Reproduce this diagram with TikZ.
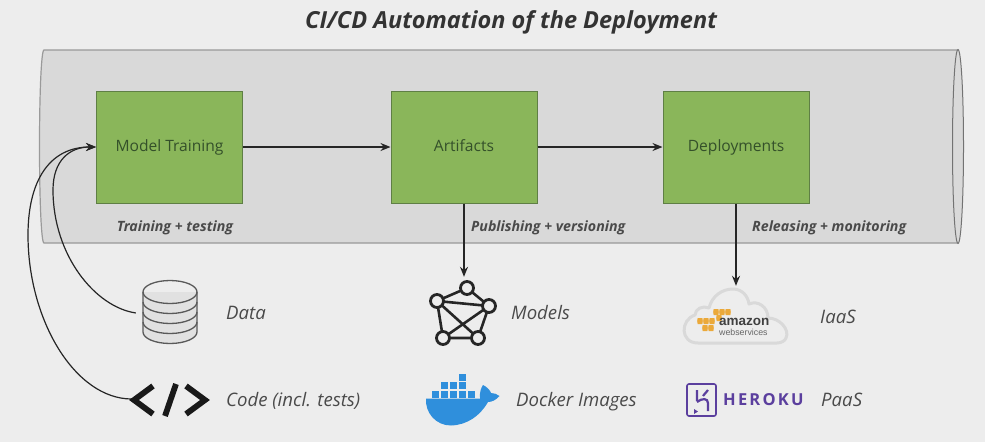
\documentclass[tikz,border=0pt]{standalone}
\usepackage{fontspec}
\setmainfont{Open Sans}
\newfontfamily\arialf{Liberation Sans}
\usetikzlibrary{arrows.meta,calc}
\definecolor{bgc}{HTML}{EDEDED}
\definecolor{pipec}{HTML}{D9D9D9}
\definecolor{pipeline}{HTML}{9A9A9A}
\definecolor{greenc}{HTML}{8AB65A}
\definecolor{greenl}{HTML}{5F7F45}
\definecolor{arrowc}{HTML}{262626}
\definecolor{txtc}{HTML}{4A4A4A}
\definecolor{boxtxt}{HTML}{34502A}
\definecolor{dockc}{HTML}{2F8FDC}
\definecolor{awsor}{HTML}{EBA93A}
\definecolor{herok}{HTML}{5B3F9E}
\tikzset{
  x=1pt,y=-1pt,
  stagebox/.style={draw=greenl,line width=1pt,fill=greenc,minimum width=146pt,minimum height=112pt,inner sep=0pt,text=boxtxt,text height=11pt,text depth=3pt,font=\fontsize{15.6}{18}\selectfont},
  flow/.style={draw=arrowc,line width=1.4pt,-{Stealth[length=10pt,width=8pt]}},
  side/.style={text=txtc,inner sep=0pt,text height=10pt,text depth=3pt,font=\fontsize{14.2}{16}\selectfont\bfseries\itshape},
  asset/.style={text=txtc,inner sep=0pt,anchor=west,text height=13pt,text depth=4pt,font=\fontsize{18.6}{20}\selectfont\itshape},
  icon/.style={inner sep=0pt,minimum size=0pt},
  netedge/.style={draw=black!85,line width=2.6pt},
  netnode/.style={draw=black!85,line width=2.8pt,fill=bgc},
  dbline/.style={draw=black!65,line width=1.3pt},
  cube/.style={fill=dockc},
  awscube/.style={fill=awsor},
}
\begin{document}
\begin{tikzpicture}
\useasboundingbox (0,0) rectangle (985,442);
\fill[bgc] (0,0) rectangle (985,442);
\node[inner sep=0pt,text=black!80,text height=17pt,text depth=5pt,font=\fontsize{23.5}{26}\selectfont\bfseries\itshape] (title) at (511,22) {CI/CD Automation of the Deployment};
% pipe
\path[fill=pipec,draw=pipeline,line width=1.2pt] (958,50) -- (44,50) .. controls (41,50) and (39.5,100) .. (39.5,146.5) .. controls (39.5,193) and (41,243) .. (44,243) -- (958,243);
\path[fill=pipec,draw=black!55,line width=1pt] (958,146.5) ellipse [x radius=5.5pt,y radius=97pt];
% stages
\node[stagebox] (train) at (169.5,147) {Model Training};
\node[stagebox] (art) at (464,147) {Artifacts};
\node[stagebox] (dep) at (736,147) {Deployments};
\draw[flow] (train) -- (art);
\draw[flow] (art) -- (dep);
\node[side] (l1) at (175,228) {Training + testing};
\node[side,anchor=west] (l2) at (471,228) {Publishing + versioning};
\node[side,anchor=west] (l3) at (752,228) {Releasing + monitoring};
% icon anchors
\node[icon] (dataicon) at (136,313) {};
\node[icon] (codeicon) at (132,399) {};
\node[icon] (modelicon) at (464,277) {};
\node[icon] (awsicon) at (736,286) {};
% connectors
\draw[flow,line width=1.3pt] (art.south) -- (modelicon);
\draw[flow,line width=1.3pt] (dep.south) -- (awsicon);
\draw[flow,line width=1.2pt] (dataicon) .. controls (95,307) and (53,255) .. (53,190) .. controls (53,160) and (70,147) .. (train.west);
\draw[flow,line width=1.2pt] (codeicon) .. controls (75,399) and (28,320) .. (28,235) .. controls (28,180) and (50,147) .. (train.west);
% database icon
\begin{scope}[dbline]
\fill[bgc!95!black] (143,292) -- (143,332) arc[start angle=180,end angle=360,x radius=27pt,y radius=11.5pt] -- (197,292) -- cycle;
\draw (143,292) -- (143,332) arc[start angle=180,end angle=360,x radius=27pt,y radius=11.5pt] -- (197,292);
\draw (170,292) ellipse [x radius=27pt,y radius=11.5pt];
\draw (143,302) arc[start angle=180,end angle=360,x radius=27pt,y radius=11.5pt];
\draw (143,312) arc[start angle=180,end angle=360,x radius=27pt,y radius=11.5pt];
\draw (143,322) arc[start angle=180,end angle=360,x radius=27pt,y radius=11.5pt];
\end{scope}
% code icon
\begin{scope}[draw=black!90,line width=5.8pt,miter limit=10]
\draw (153,386) -- (134,400) -- (153,414);
\draw (176,384) -- (165,416);
\draw (186,386) -- (205,400) -- (186,414);
\end{scope}
% network icon
\coordinate (n1) at (467,288);
\coordinate (n2) at (437,301);
\coordinate (n3) at (489,306);
\coordinate (n4) at (443,338);
\coordinate (n5) at (478,338);
\draw[netedge] (n1)--(n2)--(n3)--(n1) (n2)--(n4)--(n5)--(n3) (n2)--(n5) (n3)--(n4);
\foreach \n in {n1,n2,n3,n4,n5}{\draw[netnode] (\n) circle (6.5pt);}
% docker
\fill[dockc] (426,398.5) -- (480,398.5) .. controls (479.5,392) and (481,388) .. (483,385) .. controls (487,387) and (490,390) .. (491,393) .. controls (494,393) and (497,394) .. (499.5,396) .. controls (496,400) and (492,402) .. (488,402) .. controls (480,416) and (467,425) .. (451,425.5) .. controls (436,425.5) and (425,413) .. (426,398.5) -- cycle;
\foreach \x in {432,441,450,459,468}{\fill[cube] (\x,391) rectangle ++(7.4,6.8);}
\foreach \x in {441,450,459}{\fill[cube] (\x,382.3) rectangle ++(7.4,6.8);}
\fill[cube] (459,374) rectangle ++(7.4,6.8);
% aws
\draw[draw=black!15,line width=3pt,fill=bgc,line join=round]
 (698,343) .. controls (680,343) and (680,320) .. (695,315) .. controls (695,309) and (703,305) .. (709,308)
 .. controls (712,296) and (722,289) .. (733,289) .. controls (742,289) and (748,296) .. (749,304)
 .. controls (758,300) and (768,307) .. (768,318) .. controls (780,318) and (790,330) .. (786,338)
 .. controls (785,341) and (781,343) .. (777,343) -- cycle;
\foreach \x/\y in {700/321,706/321,712/321,705/328,711/328,716/312,722/312,728/312,719/318}{
  \fill[awscube] (\x-2.4,\y-3) -- (\x+2.4,\y-3) -- (\x+2.8,\y) -- (\x+2.4,\y+3) -- (\x-2.4,\y+3) -- (\x-2.8,\y) -- cycle;}
\node[inner sep=0pt,anchor=west,text=black!75,font=\arialf\fontsize{13.5}{14}\selectfont\bfseries] (amz) at (719,322) {amazon};
\node[inner sep=0pt,anchor=west,text=black!60,font=\arialf\fontsize{8.8}{9}\selectfont] (ws) at (719,332) {webservices};
% heroku
\draw[herok,line width=1.6pt,rounded corners=2pt] (687,384) rectangle (716,416);
\draw[herok,line width=2.2pt] (697,390) -- (697,401) (697,402) .. controls (702,398) and (708,398) .. (708,403) -- (708,411) (708,390) -- (703,396);
\fill[herok] (694,409) -- (698,411.5) -- (694,414) -- cycle;
\node[inner sep=0pt,anchor=west,text=herok,font=\fontsize{16.5}{18}\selectfont\bfseries] (hero) at (723,400) {H\kern2.2pt E\kern2.2pt R\kern2.2pt O\kern2.2pt K\kern2.2pt U};
% assets
\node[asset] (a1) at (226,315) {Data};
\node[asset] (a2) at (226,402) {Code (incl. tests)};
\node[asset] (a3) at (511,315) {Models};
\node[asset] (a4) at (516,402) {Docker Images};
\node[asset] (a5) at (820,319) {IaaS};
\node[asset] (a6) at (821,402) {PaaS};
\end{tikzpicture}
\end{document}
